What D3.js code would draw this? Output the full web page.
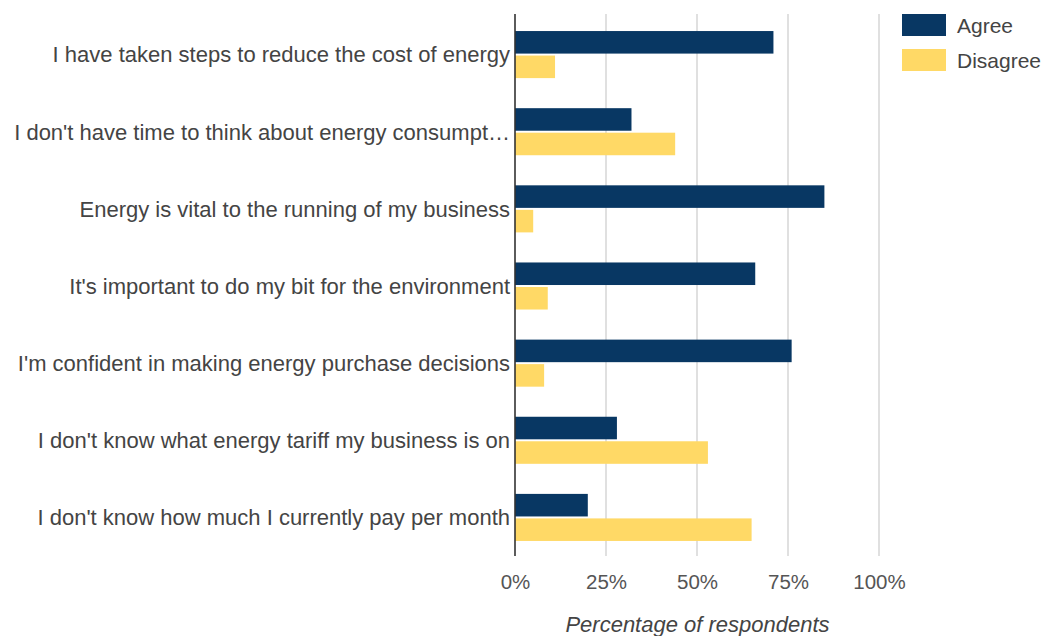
<!DOCTYPE html>
<html>
<head>
<meta charset="utf-8">
<script src="https://cdn.jsdelivr.net/npm/d3@7"></script>
<style>
  html, body { margin: 0; padding: 0; background: #fff; }
  svg { display: block; font-family: "Liberation Sans", Arial, sans-serif; }
</style>
</head>
<body>
<svg id="chart" width="1047" height="636"></svg>
<script>
// Survey statements (top to bottom)
const categories = [
  "I have taken steps to reduce the cost of energy",
  "I don't have time to think about energy consumpt\u2026",
  "Energy is vital to the running of my business",
  "It's important to do my bit for the environment",
  "I'm confident in making energy purchase decisions",
  "I don't know what energy tariff my business is on",
  "I don't know how much I currently pay per month"
];
// Share of respondents (%)
const agree    = [71, 32, 85, 66, 76, 28, 20];
const disagree = [11, 44,  5,  9,  8, 53, 65];
const seriesNames = ["Agree", "Disagree"];
const seriesColors = ["#083763", "#ffd966"];
const tickValues = [0, 25, 50, 75, 100];
const axisTitle = "Percentage of respondents";

const svg = d3.select("#chart");
const plot = { left: 515, right: 879, top: 16, bottom: 556 };

const x = d3.scaleLinear().domain([0, 100]).range([plot.left, plot.right]);
const y = d3.scaleBand().domain(categories).range([plot.top, plot.bottom])
  .paddingInner(0.39).paddingOuter(0.195);
const ySub = d3.scaleBand().domain(seriesNames).range([0, y.bandwidth()]).paddingInner(0.08);
const color = d3.scaleOrdinal().domain(seriesNames).range(seriesColors);

const rows = categories.map((c, i) => ({ cat: c, values: [
  { key: "Agree", value: agree[i] },
  { key: "Disagree", value: disagree[i] }
]}));

// vertical gridlines
svg.append("g")
  .selectAll("line")
  .data(tickValues.filter(t => t > 0))
  .join("line")
  .attr("x1", d => x(d)).attr("x2", d => x(d))
  .attr("y1", plot.top - 2).attr("y2", plot.bottom)
  .attr("stroke", "#cccccc").attr("stroke-width", 1.2);

// bars
svg.append("g")
  .selectAll("g")
  .data(rows)
  .join("g")
  .attr("transform", d => `translate(0,${y(d.cat)})`)
  .selectAll("rect")
  .data(d => d.values)
  .join("rect")
  .attr("x", x(0))
  .attr("y", d => ySub(d.key))
  .attr("width", d => x(d.value) - x(0))
  .attr("height", ySub.bandwidth())
  .attr("fill", d => color(d.key));

// baseline axis
svg.append("line")
  .attr("x1", x(0)).attr("x2", x(0))
  .attr("y1", plot.top - 2).attr("y2", plot.bottom)
  .attr("stroke", "#333333").attr("stroke-width", 1.6);

// x tick labels
const xAxis = d3.axisBottom(x).tickValues(tickValues).tickFormat(d => d + "%").tickSize(0).tickPadding(0);
const gx = svg.append("g").attr("transform", `translate(0,${plot.bottom})`).call(xAxis);
gx.select(".domain").remove();
gx.selectAll("text")
  .attr("y", 33).attr("dy", 0)
  .attr("fill", "#555555")
  .style("font-size", "20.5px")
  .style("font-family", "'Liberation Sans', Arial, sans-serif");

// category labels
const yAxis = d3.axisLeft(y).tickSize(0).tickPadding(0);
const gy = svg.append("g").attr("transform", `translate(${plot.left - 5},0)`).call(yAxis);
gy.select(".domain").remove();
gy.selectAll("text")
  .attr("x", 0).attr("dy", "0.36em")
  .attr("fill", "#444444")
  .style("font-size", "22px")
  .style("font-family", "'Liberation Sans', Arial, sans-serif");

// axis title
svg.append("text")
  .attr("x", (plot.left + plot.right) / 2 + 0.5)
  .attr("y", 632)
  .attr("text-anchor", "middle")
  .attr("fill", "#444444")
  .style("font-size", "22px")
  .style("font-style", "italic")
  .text(axisTitle);

// legend
const legend = svg.append("g").attr("transform", "translate(902,14)")
  .selectAll("g")
  .data(seriesNames)
  .join("g")
  .attr("transform", (d, i) => `translate(0,${i * 35})`);
legend.append("rect")
  .attr("width", 44).attr("height", 22)
  .attr("fill", d => color(d));
legend.append("text")
  .attr("x", 55).attr("y", 11).attr("dy", "0.36em")
  .attr("fill", "#444444")
  .style("font-size", "21px")
  .text(d => d);
</script>
</body>
</html>
